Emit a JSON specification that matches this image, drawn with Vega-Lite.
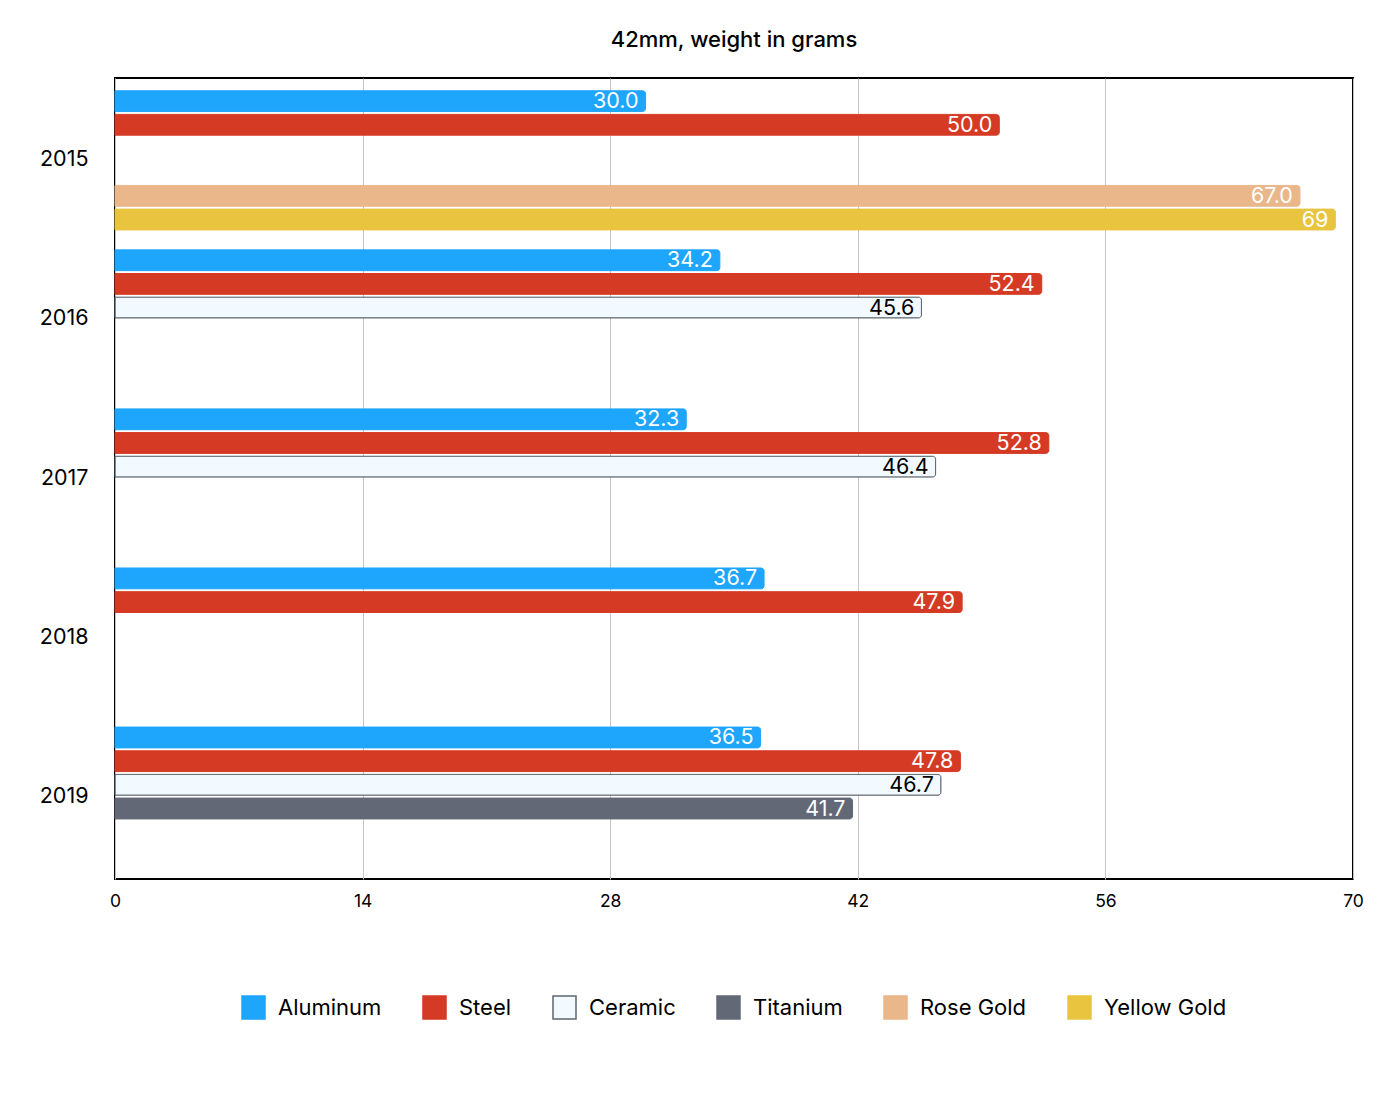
{
  "$schema": "https://vega.github.io/schema/vega-lite/v6.json",
  "autosize": {"type": "none"},
  "padding": {"left": 115, "top": 78, "right": 37, "bottom": 227},
  "width": 1238,
  "height": 801,
  "title": {"text": "42mm, weight in grams", "font": "Inter", "fontSize": 22, "fontWeight": 500, "color": "#000000", "anchor": "middle", "offset": 26},
  "config": {
    "view": {"stroke": "#000000", "strokeWidth": 2},
    "font": "Inter"
  },
  "data": {
    "values": [
      {"year": "2015", "material": "Aluminum", "weight": 30.0, "label": "30.0"},
      {"year": "2015", "material": "Steel", "weight": 50.0, "label": "50.0"},
      {"year": "2015", "material": "Rose Gold", "weight": 67.0, "label": "67.0"},
      {"year": "2015", "material": "Yellow Gold", "weight": 69, "label": "69"},
      {"year": "2016", "material": "Aluminum", "weight": 34.2, "label": "34.2"},
      {"year": "2016", "material": "Steel", "weight": 52.4, "label": "52.4"},
      {"year": "2016", "material": "Ceramic", "weight": 45.6, "label": "45.6"},
      {"year": "2017", "material": "Aluminum", "weight": 32.3, "label": "32.3"},
      {"year": "2017", "material": "Steel", "weight": 52.8, "label": "52.8"},
      {"year": "2017", "material": "Ceramic", "weight": 46.4, "label": "46.4"},
      {"year": "2018", "material": "Aluminum", "weight": 36.7, "label": "36.7"},
      {"year": "2018", "material": "Steel", "weight": 47.9, "label": "47.9"},
      {"year": "2019", "material": "Aluminum", "weight": 36.5, "label": "36.5"},
      {"year": "2019", "material": "Steel", "weight": 47.8, "label": "47.8"},
      {"year": "2019", "material": "Ceramic", "weight": 46.7, "label": "46.7"},
      {"year": "2019", "material": "Titanium", "weight": 41.7, "label": "41.7"}
    ]
  },
  "encoding": {
    "y": {
      "field": "year", "type": "nominal", "title": null,
      "scale": {"paddingInner": 0.125, "paddingOuter": 0.08},
      "axis": {"ticks": false, "domain": false, "labelFontSize": 21.5, "labelColor": "#000000", "labelPadding": 27, "labelFont": "Inter"}
    },
    "yOffset": {
      "field": "material", "type": "nominal",
      "scale": {"domain": ["Aluminum", "Steel", "Ceramic", "Titanium", "Rose Gold", "Yellow Gold"], "paddingInner": 0.12, "paddingOuter": 0}
    },
    "x": {
      "field": "weight", "type": "quantitative", "title": null,
      "scale": {"domain": [0, 70], "nice": false},
      "axis": {"values": [0, 14, 28, 42, 56, 70], "ticks": false, "domain": false, "grid": true, "gridColor": "#c4c4c4", "gridWidth": 1, "labelFontSize": 17.5, "labelColor": "#000000", "labelPadding": 13, "labelFlush": false, "labelFont": "Inter"}
    }
  },
  "layer": [
    {
      "mark": {"type": "bar", "cornerRadiusEnd": 3, "strokeWidth": 1},
      "encoding": {
        "color": {
          "field": "material", "type": "nominal", "title": null,
          "scale": {"domain": ["Aluminum", "Steel", "Ceramic", "Titanium", "Rose Gold", "Yellow Gold"], "range": ["#1ea5fc", "#d53a24", "#f2faff", "#636877", "#e9b789", "#e9c53f"]},
          "legend": {
            "orient": "none", "legendX": 126, "legendY": 917, "direction": "horizontal",
            "symbolType": "square", "symbolSize": 529, "symbolOpacity": 1, "symbolStrokeWidth": 1.5,
            "labelFontSize": 22, "labelColor": "#000000", "labelOffset": 12, "columnPadding": 38, "labelFont": "Inter"
          }
        },
        "stroke": {
          "field": "material", "type": "nominal",
          "scale": {"domain": ["Aluminum", "Steel", "Ceramic", "Titanium", "Rose Gold", "Yellow Gold"], "range": ["#1ea5fc", "#d53a24", "#5d6670", "#636877", "#e9b789", "#e9c53f"]}
        }
      }
    },
    {
      "mark": {"type": "text", "align": "right", "baseline": "middle", "dx": -7, "dy": 1, "fontSize": 21.5, "font": "Inter"},
      "encoding": {
        "text": {"field": "label"},
        "color": {
          "condition": {"test": "datum.material === 'Ceramic'", "value": "#000000"},
          "value": "#ffffff"
        }
      }
    }
  ]
}
